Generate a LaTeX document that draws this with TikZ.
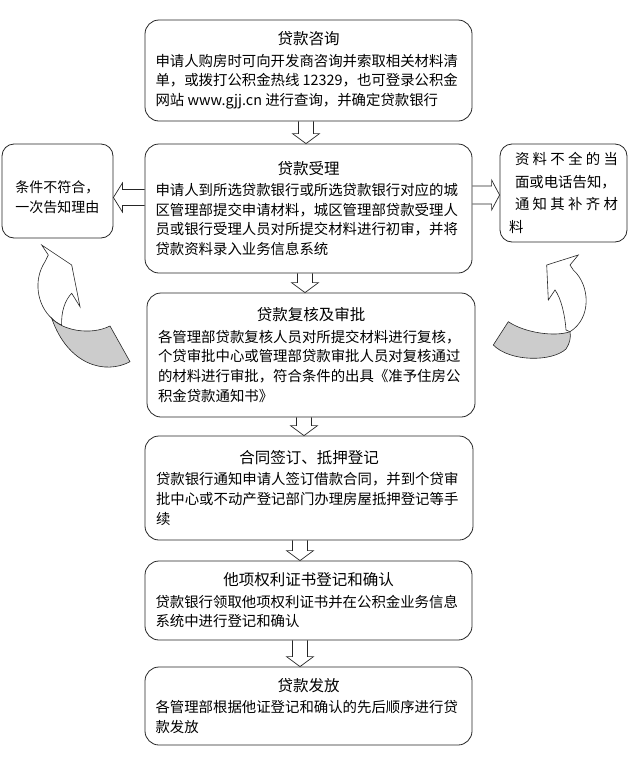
\documentclass[tikz,border=0pt]{standalone}
\usepackage{fontspec}
\newfontfamily\cjk{Noto Sans CJK SC}
\usetikzlibrary{calc}
\newcommand\bodyfont{\cjk\fontsize{14.4}{19.7}\selectfont}
\newcommand\ttl[1]{{\fontsize{15.5}{19.7}\selectfont #1}}
\newcommand\bodytext[1]{\parbox[t]{306pt}{\raggedright #1}}
\tikzset{
  box/.style={draw=black!85, line width=0.8pt, rounded corners=14pt, minimum width=327pt,
    align=center, font=\bodyfont, inner sep=0pt, fill=white},
  sbox/.style={draw=black!85, line width=0.8pt, rounded corners=12pt, align=left, inner sep=0pt, fill=white},
  blockarr/.style={draw=black!85, line width=0.7pt},
  carr/.style={draw=black!85, line width=0.6pt},
}
\newcommand\varrow[3]{%
  \draw[blockarr] let \p1=(#1.south), \p2=(#2.north), \p3=(#3,0) in
    ({\x3-7.5pt},\y1) -- ({\x3-7.5pt},{\y2+10pt}) -- ({\x3-13.5pt},{\y2+10pt}) -- (\x3,\y2)
    -- ({\x3+13.5pt},{\y2+10pt}) -- ({\x3+7.5pt},{\y2+10pt}) -- ({\x3+7.5pt},\y1);}
\begin{document}
\begin{tikzpicture}[x=1pt,y=-1pt]
\useasboundingbox (0,0) rectangle (628,758);

\node[box, minimum height=101pt] (b1) at (308.5,70.5) {\ttl{贷款咨询}\\[1.5pt]
  \bodytext{申请人购房时可向开发商咨询并索取相关材料清\\单，或拨打公积金热线 12329，也可登录公积金\\网站 www.gjj.cn 进行查询，并确定贷款银行}};

\node[box, minimum height=129pt] (b2) at (308.5,208.5) {\ttl{贷款受理}\\[1.5pt]
  \bodytext{申请人到所选贷款银行或所选贷款银行对应的城\\区管理部提交申请材料，城区管理部贷款受理人\\员或银行受理人员对所提交材料进行初审，并将\\贷款资料录入业务信息系统}};

\node[box, minimum height=124pt, minimum width=328pt] (b3) at (311,355) {\ttl{贷款复核及审批}\\[1.5pt]
  \bodytext{各管理部贷款复核人员对所提交材料进行复核，\\个贷审批中心或管理部贷款审批人员对复核通过\\的材料进行审批，符合条件的出具《准予住房公\\积金贷款通知书》}};

\node[box, minimum height=104pt, minimum width=328pt] (b4) at (309,488) {\ttl{合同签订、抵押登记}\\[1.5pt]
  \bodytext{贷款银行通知申请人签订借款合同，并到个贷审\\批中心或不动产登记部门办理房屋抵押登记等手\\续}};

\node[box, minimum height=79pt] (b5) at (308.5,600.5) {\ttl{他项权利证书登记和确认}\\[1.5pt]
  \bodytext{贷款银行领取他项权利证书并在公积金业务信息\\系统中进行登记和确认}};

\node[box, minimum height=78pt] (b6) at (308.5,706) {\ttl{贷款发放}\\[1.5pt]
  \bodytext{各管理部根据他证登记和确认的先后顺序进行贷\\款发放}};

\node[sbox, minimum width=111pt, minimum height=94pt, font=\cjk\fontsize{14}{20}\selectfont] (lb) at (57.5,191)
  {\rule{0pt}{24pt}条件不符合，\\一次告知理由};

\node[sbox, minimum width=127pt, minimum height=98pt, text width=109pt, font=\cjk\fontsize{14.4}{22.7}\selectfont] (rb) at (563.5,193)
  {\leftskip=6pt\relax\makebox[103pt][s]{资\hfil 料\hfil 不\hfil 全\hfil 的\hfil 当}\\面或电话告知，\\\makebox[103pt][s]{通\hfil 知\hfil 其\hfil 补\hfil 齐\hfil 材}\\料};

% vertical block arrows
\varrow{b1}{b2}{306}
\varrow{b2}{b3}{305}
\varrow{b3}{b4}{304}
\varrow{b4}{b5}{300}
\varrow{b5}{b6}{300}

% horizontal block arrows
\draw[blockarr] let \p1=(b2.west), \p2=(lb.east), \p3=(0,197.5) in
  (\x1,{\y3+8pt}) -- ({\x2+9pt},{\y3+8pt}) -- ({\x2+9pt},{\y3+14.5pt}) -- (\x2,\y3)
  -- ({\x2+9pt},{\y3-14.5pt}) -- ({\x2+9pt},{\y3-8pt}) -- (\x1,{\y3-8pt});
\draw[blockarr] let \p1=(b2.east), \p2=(rb.west), \p3=(0,195) in
  (\x1,{\y3+9pt}) -- ({\x2-8pt},{\y3+9pt}) -- ({\x2-8pt},{\y3+15pt}) -- (\x2,\y3)
  -- ({\x2-8pt},{\y3-15pt}) -- ({\x2-8pt},{\y3-9pt}) -- (\x1,{\y3-9pt});

% left curved arrow
\draw[carr, fill=white] (41.7,245) -- (48.3,255) -- (45,261.7)
  .. controls (33,280) and (37,305) .. (51.7,318.3)
  .. controls (54,321) and (58,323.5) .. (61.7,325)
  .. controls (61,312) and (65,300) .. (71.7,293.3)
  -- (80,306.7) -- (71.7,265) -- cycle;
\draw[carr, fill=black!20] (51.7,318.3) .. controls (62,330) and (90,336) .. (110,326)
  -- (130,361.7) .. controls (105,375) and (68,365) .. (51.7,318.3) -- cycle;

% right curved arrow
\draw[carr, fill=white] (578.3,255) -- (570,265) -- (573.3,270)
  .. controls (590,285) and (592,318) .. (570,331.7)
  -- (566,330) .. controls (565,315) and (561,298) .. (555,290)
  -- (548.3,300) -- (546.7,265) -- cycle;
\draw[carr, fill=black!20] (508.3,321.7) -- (493.3,345)
  .. controls (510,362) and (552,362) .. (566,349)
  .. controls (570,343) and (571,337) .. (570,331.7)
  .. controls (555,337) and (525,333) .. (508.3,321.7) -- cycle;
\end{tikzpicture}
\end{document}
